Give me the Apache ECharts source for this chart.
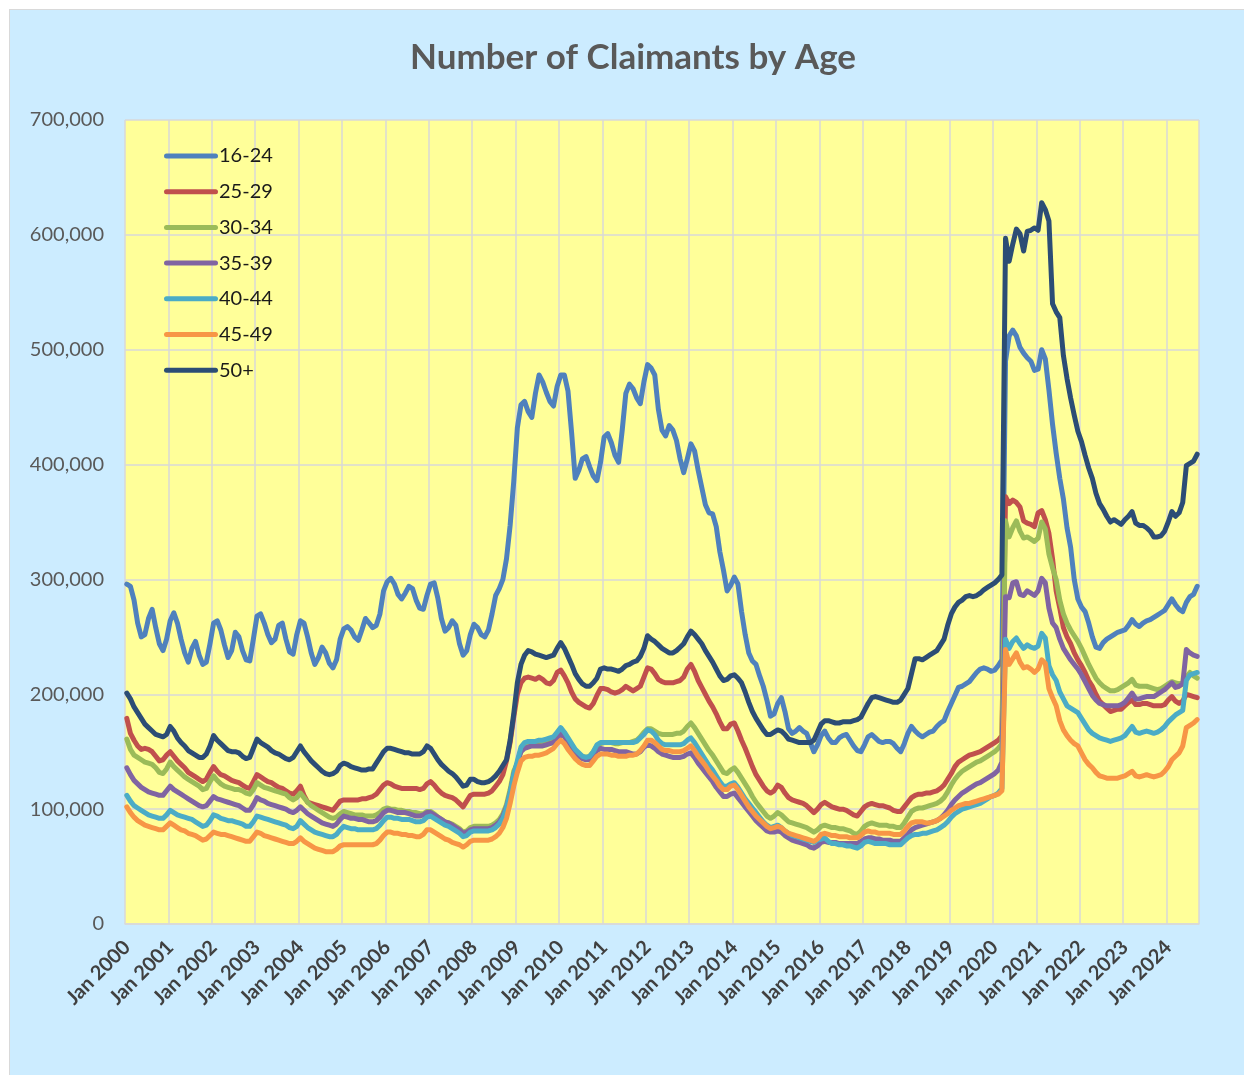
<!DOCTYPE html>
<html>
<head>
<meta charset="utf-8">
<script src="https://cdn.jsdelivr.net/npm/echarts@6/dist/echarts.min.js"></script>
<style>
  html, body { margin: 0; padding: 0; background: #FFFFFF; }
  #frame { position: absolute; left: 9px; top: 9px; width: 1240px; height: 1070px;
           background: #CCECFF; border: 1px solid #D9D9D9; }
  #chart { position: absolute; left: 0; top: 0; width: 1244px; height: 1075px; }
</style>
</head>
<body>
<div id="frame"></div>
<div id="chart"></div>
<script>
// Monthly claimant counts, in thousands, Jan 2000 .. Sep 2024 (297 months)
const seriesNames = ['16-24', '25-29', '30-34', '35-39', '40-44', '45-49', '50+'];
const monthNames = ['Jan','Feb','Mar','Apr','May','Jun','Jul','Aug','Sep','Oct','Nov','Dec'];
const firstYear = 2000, monthCount = 297;
const yTicks = [0, 100000, 200000, 300000, 400000, 500000, 600000, 700000];

const age1624 = [
296,294,282,262,250,252,266,274,258,244,238,248,
264,271,262,248,236,228,240,246,234,226,228,244,
262,264,256,243,232,238,254,250,238,230,229,248,
268,270,262,252,245,248,260,262,248,237,235,252,
264,262,250,236,226,232,241,236,227,223,230,248,
257,259,256,250,247,256,266,262,258,260,270,290,
298,301,296,287,283,288,294,292,282,275,274,286,
296,297,284,266,255,258,264,260,244,234,238,252,
261,258,252,250,256,270,286,292,300,318,347,385,
432,452,455,446,441,462,478,472,463,455,451,468,
478,478,464,428,388,395,405,407,398,390,386,402,
424,427,419,408,402,430,462,470,466,458,453,472,
487,484,478,448,430,425,434,430,421,405,393,405,
418,412,395,380,365,358,357,346,324,308,290,295,
302,296,272,252,236,229,226,216,207,195,181,183,
192,197,185,170,166,168,171,168,166,158,150,156,
164,168,162,158,158,162,164,165,160,155,151,150,
156,163,165,162,159,158,159,159,157,153,150,157,
166,172,168,165,163,165,167,168,172,175,177,185,
192,199,206,207,209,211,215,219,222,223,222,220,
221,225,230,490,512,517,512,502,497,493,490,482,
483,500,492,465,435,410,388,370,345,328,300,283,
276,272,262,250,241,240,245,248,250,252,254,255,
256,260,265,261,259,262,264,265,267,269,271,273,
278,283,278,274,272,280,285,287,294];

const age2529 = [
179,166,160,155,152,153,152,150,146,142,143,147,
150,146,142,139,136,132,130,128,126,124,126,132,
137,133,130,129,127,125,124,123,121,119,118,124,
130,128,126,124,123,121,119,118,116,114,113,116,
120,112,106,105,104,103,102,101,100,99,103,107,
108,108,108,108,108,109,109,110,111,113,117,121,
123,122,120,119,118,118,118,118,118,117,118,122,
124,121,117,114,112,111,110,108,105,102,107,112,
113,113,113,113,114,116,120,124,130,142,158,180,
200,210,214,215,214,213,215,213,210,209,212,219,
221,216,210,202,196,193,191,189,188,192,199,205,
205,204,202,201,202,204,207,205,203,205,207,215,
223,222,218,213,211,210,210,210,211,212,215,222,
226,220,212,206,200,194,189,183,176,170,170,174,
175,168,160,153,145,137,130,125,120,116,114,116,
121,119,114,110,108,107,106,105,103,100,97,100,
104,106,104,102,101,100,100,99,97,95,94,98,
102,104,105,104,103,103,102,101,99,98,98,102,
106,110,112,113,113,114,114,115,116,118,121,126,
131,137,141,143,145,147,148,149,150,152,154,156,
158,160,164,372,366,369,367,363,351,349,348,346,
358,360,352,340,318,290,275,258,250,244,236,230,
225,219,212,207,200,194,191,188,185,186,187,187,
190,193,195,191,191,192,192,191,190,190,190,191,
195,198,194,192,194,200,199,198,197];

const age3034 = [
161,152,147,145,143,141,140,139,136,132,131,135,
141,137,134,131,128,126,124,122,120,117,118,124,
129,125,122,120,119,118,117,117,116,114,113,117,
123,121,119,118,117,116,115,114,113,110,108,110,
114,110,106,103,101,99,97,95,93,92,93,96,
98,97,96,95,95,95,94,94,94,95,97,100,
101,100,100,99,99,98,98,97,97,96,96,98,
98,96,93,91,89,88,87,85,83,80,81,84,
85,85,85,85,85,86,88,91,96,104,117,133,
140,152,156,157,157,157,158,158,158,159,161,165,
169,166,161,156,151,148,146,145,146,150,155,157,
158,158,158,157,157,158,158,158,159,160,163,167,
170,170,168,166,165,165,165,165,166,166,168,172,
175,171,166,161,156,151,147,142,137,132,131,134,
136,132,127,122,117,111,106,102,98,94,92,94,
97,95,92,89,88,87,86,85,84,82,80,82,
85,86,85,84,84,83,83,82,81,79,78,81,
85,87,88,87,86,86,86,85,85,84,84,88,
93,98,100,101,101,102,103,104,105,107,110,115,
121,126,130,133,135,137,139,141,142,144,146,148,
150,153,157,351,337,345,351,342,336,337,335,333,
336,350,344,322,310,300,282,270,262,256,251,246,
240,233,226,220,214,210,207,205,203,203,204,206,
208,210,213,208,207,207,207,206,205,204,205,207,
209,211,210,209,210,215,219,216,214];

const age3539 = [
136,130,125,122,119,117,115,114,113,112,112,116,
120,117,115,113,111,109,107,105,103,102,103,107,
111,109,108,107,106,105,104,103,101,99,99,104,
110,108,107,105,104,103,102,101,100,98,97,99,
102,99,96,94,92,90,88,87,86,85,87,91,
94,93,92,92,91,91,90,89,89,90,93,97,
99,99,98,97,97,97,96,95,94,94,95,97,
97,95,93,91,89,88,86,84,82,79,80,82,
83,83,83,83,83,84,86,89,94,102,114,130,
140,150,153,154,155,155,155,155,156,157,158,162,
166,163,158,153,149,146,144,143,143,147,151,153,
152,152,152,151,150,150,150,149,148,148,150,154,
156,155,153,150,148,147,146,145,145,145,146,148,
149,145,140,136,132,128,124,119,115,111,111,113,
114,110,106,102,98,94,90,87,84,81,80,80,
81,80,77,75,73,72,71,70,69,67,66,68,
71,72,71,71,71,70,70,70,70,70,70,72,
74,75,75,74,74,73,73,73,72,72,72,75,
78,82,84,85,86,87,88,89,90,92,95,99,
104,108,111,114,116,118,120,122,123,125,127,129,
131,134,141,285,284,297,298,287,286,290,288,286,
290,301,297,275,262,258,248,240,235,230,226,222,
217,211,205,199,195,192,191,190,190,190,190,191,
193,197,201,196,196,197,198,198,198,200,202,204,
207,210,206,207,209,239,236,234,233];

const age4044 = [
112,107,103,101,99,97,95,94,93,92,92,95,
99,97,95,94,93,92,91,89,87,85,86,90,
95,94,92,91,90,90,89,88,87,85,85,89,
94,93,92,91,90,89,88,87,86,84,83,85,
90,87,84,82,80,79,78,77,76,76,78,82,
85,84,83,83,82,82,82,82,82,83,86,90,
93,93,92,92,91,91,91,90,89,89,90,93,
94,92,90,88,86,85,83,81,79,76,77,80,
81,81,81,81,81,82,84,87,92,101,114,130,
142,154,158,159,159,159,160,160,161,162,163,167,
171,167,162,157,152,149,146,145,146,150,156,158,
158,158,158,158,158,158,158,158,158,159,162,165,
169,168,165,160,157,156,156,156,156,156,157,160,
162,158,153,148,143,138,134,129,124,120,120,122,
123,119,114,109,105,101,97,93,89,86,84,85,
86,84,81,79,77,76,75,74,73,72,71,73,
74,75,72,70,70,69,69,68,68,67,66,68,
71,72,71,70,70,70,70,69,69,69,69,72,
75,77,78,78,79,79,80,81,82,84,86,89,
93,96,98,100,101,102,103,104,105,107,109,111,
112,114,118,248,240,246,249,244,240,243,241,240,
242,253,249,225,217,212,202,196,190,188,186,184,
179,174,169,166,164,162,161,160,159,160,161,162,
164,168,172,167,166,167,168,167,166,167,169,172,
176,179,182,184,186,212,217,218,219];

const age4549 = [
102,97,93,90,88,86,85,84,83,82,82,85,
88,86,84,82,81,79,78,77,75,73,74,77,
80,79,78,78,77,76,75,74,73,72,72,76,
80,79,77,76,75,74,73,72,71,70,70,72,
75,72,70,68,66,65,64,63,63,63,65,68,
69,69,69,69,69,69,69,69,69,70,73,77,
80,80,79,79,78,78,77,77,76,76,78,82,
82,80,78,76,74,73,71,70,69,67,69,72,
73,73,73,73,73,74,76,79,84,92,105,120,
132,142,145,146,146,147,147,148,149,151,153,157,
160,157,152,148,144,141,139,138,138,142,146,148,
148,148,147,147,146,146,146,147,147,148,151,155,
160,160,158,155,152,151,151,150,150,150,151,153,
155,151,146,142,138,133,129,125,120,117,117,120,
121,117,112,107,102,98,94,91,88,85,83,84,
85,84,81,79,78,77,76,75,74,73,72,74,
78,79,78,77,77,76,76,76,75,75,75,77,
80,81,80,80,79,79,79,79,78,78,78,81,
85,88,89,89,89,88,88,89,90,92,94,96,
99,101,103,104,105,105,106,107,108,109,110,111,
112,113,116,239,226,231,236,228,223,224,222,219,
222,230,227,205,197,190,177,169,164,160,157,155,
149,143,139,136,132,129,128,127,127,127,127,128,
129,131,133,129,128,129,130,129,128,129,130,133,
137,143,146,149,155,171,173,175,178];

const age50plus = [
201,196,189,184,179,174,171,168,165,164,163,165,
172,168,162,158,155,151,149,147,145,145,148,155,
164,160,157,154,151,150,150,149,146,144,145,153,
161,158,156,154,151,149,148,146,144,143,145,150,
155,150,146,142,139,136,133,131,130,131,133,138,
140,139,137,136,135,134,134,135,135,140,145,150,
153,153,152,151,150,149,149,148,148,148,150,155,
153,148,143,139,136,133,131,128,124,120,121,126,
126,124,123,123,124,126,129,133,138,143,160,183,
210,226,234,238,237,235,234,233,232,233,234,240,
245,240,233,226,218,213,209,207,207,210,214,222,
223,222,222,221,220,222,225,226,228,229,233,240,
251,248,246,243,240,238,236,236,238,241,244,250,
255,252,248,244,238,233,228,222,216,212,213,216,
217,214,210,202,193,185,179,174,169,165,165,167,
169,168,165,161,160,159,158,158,158,158,160,167,
174,177,177,176,175,175,176,176,176,177,178,180,
186,192,197,198,197,196,195,194,193,193,195,200,
205,218,231,231,230,232,234,236,238,243,248,260,
270,276,280,282,285,286,285,286,288,291,293,295,
297,300,304,597,577,592,605,601,586,603,604,606,
604,628,622,612,540,533,528,495,475,458,443,429,
420,408,397,388,375,366,361,355,350,352,350,348,
352,355,359,349,347,347,345,342,337,337,338,342,
350,359,355,358,367,399,401,403,409];

const seriesValues = [age1624, age2529, age3034, age3539, age4044, age4549, age50plus];
const seriesColors = ['#4F81BD', '#C0504D', '#9BBB59', '#8064A2', '#4BACC6', '#F79646', '#2C4D75'];

// Category labels: one per month
const categories = [];
for (let i = 0; i < monthCount; i++) {
  categories.push(monthNames[i % 12] + ' ' + (firstYear + Math.floor(i / 12)));
}

const font = 'Lato, "Open Sans", "Liberation Sans", sans-serif';
const gridLine = { color: '#D9D9D9', width: 1.5 };
// legend key: thick rounded line segment
const legendKey = 'path://M2.5,0 H51.5 A2.5,2.5 0 0 1 51.5,5 H2.5 A2.5,2.5 0 0 1 2.5,0 Z';

const chart = echarts.init(document.getElementById('chart'), null, { renderer: 'canvas' });
chart.setOption({
  animation: false,
  backgroundColor: 'transparent',
  title: {
    text: 'Number of Claimants by Age',
    left: 628, top: 35, textAlign: 'center',
    textStyle: { fontFamily: font, fontWeight: 'bold', fontSize: 35, color: '#595959' }
  },
  legend: {
    data: seriesNames.map(n => ({ name: n, icon: legendKey })),
    orient: 'vertical',
    left: 159, top: 141,
    itemWidth: 54, itemHeight: 20, itemGap: 15.7,
    textStyle: { fontFamily: font, fontSize: 20, color: '#1A1A1A', padding: [0, 0, 0, -4] },
    selectedMode: false
  },
  grid: {
    left: 125, top: 120, width: 1074, height: 804,
    show: true, backgroundColor: '#FFFF99', borderWidth: 0,
    containLabel: false
  },
  xAxis: {
    type: 'category',
    data: categories,
    boundaryGap: true,
    axisLine: { show: true, lineStyle: gridLine },
    axisTick: { show: false },
    axisLabel: {
      interval: 11, rotate: 45, margin: 20,
      fontFamily: font, fontWeight: 'bold', fontSize: 20, color: '#404040'
    },
    splitLine: { show: true, interval: 11, lineStyle: gridLine }
  },
  yAxis: {
    type: 'value',
    min: yTicks[0], max: yTicks[yTicks.length - 1], interval: yTicks[1] - yTicks[0],
    axisLine: { show: false },
    axisTick: { show: false },
    axisLabel: {
      margin: 21, fontFamily: font, fontSize: 20, color: '#595959',
      formatter: v => v.toLocaleString('en-US')
    },
    splitLine: { show: true, lineStyle: gridLine }
  },
  series: seriesNames.map((name, i) => ({
    name: name,
    type: 'line',
    data: seriesValues[i].map(v => v * 1000),
    symbol: 'none',
    smooth: false,
    color: seriesColors[i],
    itemStyle: { color: seriesColors[i] },
    lineStyle: { width: 5, color: seriesColors[i], cap: 'round', join: 'round' },
    emphasis: { disabled: true }
  }))
});
</script>
</body>
</html>
